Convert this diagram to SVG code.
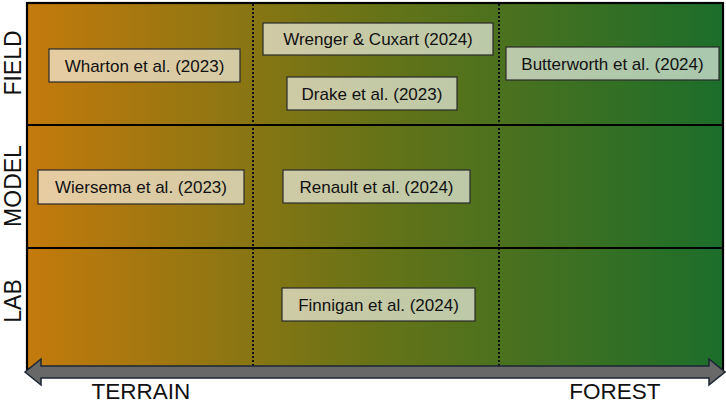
<svg xmlns="http://www.w3.org/2000/svg" width="726" height="405" viewBox="0 0 726 405">
<defs>
<linearGradient id="bg" x1="0" y1="0" x2="1" y2="0">
<stop offset="0" stop-color="#c47a0c"/>
<stop offset="0.5" stop-color="#677317"/>
<stop offset="1" stop-color="#1c6e2b"/>
</linearGradient>
<style>
.box{fill:#ffffff;fill-opacity:0.62;stroke:#2a2a2a;stroke-width:1.2}
.bt{font-family:"Liberation Sans",Arial,sans-serif;font-size:17px;fill:#111;text-anchor:middle}
.ax{font-family:"Liberation Sans",Arial,sans-serif;font-size:23px;fill:#111;text-anchor:middle}
.grid{stroke:#000;stroke-width:2.2;fill:none}
.dot{stroke:#111;stroke-width:2;stroke-dasharray:2 2;fill:none}
</style>
</defs>
<rect x="27" y="3" width="696" height="366" fill="url(#bg)"/>
<g id="connectors">
<line class="dot" x1="253" y1="4" x2="253" y2="366"/>
<line class="dot" x1="499" y1="4" x2="499" y2="366"/>
<line class="grid" x1="27" y1="125" x2="723" y2="125"/>
<line class="grid" x1="27" y1="248" x2="723" y2="248"/>
<rect class="grid" x="27" y="3" width="696" height="366"/>
<polygon points="25,372 41,359 41,366 709,366 709,359 725,372 709,385 709,378 41,378 41,385" fill="#686868" stroke="#1b2635" stroke-width="1.5" stroke-linejoin="miter"/>
</g>
<g id="labels">
<text class="ax" transform="translate(21,63) rotate(-90)">FIELD</text>
<text class="ax" transform="translate(21,186) rotate(-90)">MODEL</text>
<text class="ax" transform="translate(21,301) rotate(-90)">LAB</text>
<text class="ax" x="141" y="399" style="font-size:22.5px">TERRAIN</text>
<text class="ax" x="615" y="399" style="font-size:22.5px">FOREST</text>
</g>
<g id="wharton"><rect class="box" x="49" y="49" width="191" height="33"/><text class="bt" x="144.5" y="71.5">Wharton et al. (2023)</text></g>
<g id="wrenger"><rect class="box" x="263" y="23" width="230" height="32"/><text class="bt" x="378" y="45">Wrenger &amp; Cuxart (2024)</text></g>
<g id="drake"><rect class="box" x="287" y="77" width="170" height="33"/><text class="bt" x="372" y="99.5">Drake et al. (2023)</text></g>
<g id="butterworth"><rect class="box" x="506" y="47" width="213" height="33"/><text class="bt" x="612.5" y="69.5">Butterworth et al. (2024)</text></g>
<g id="wiersema"><rect class="box" x="38" y="170" width="206" height="34"/><text class="bt" x="141" y="193">Wiersema et al. (2023)</text></g>
<g id="renault"><rect class="box" x="283" y="170" width="187" height="33"/><text class="bt" x="376.5" y="192.5">Renault et al. (2024)</text></g>
<g id="finnigan"><rect class="box" x="282" y="288" width="193" height="33"/><text class="bt" x="378.5" y="310.5">Finnigan et al. (2024)</text></g>
</svg>
